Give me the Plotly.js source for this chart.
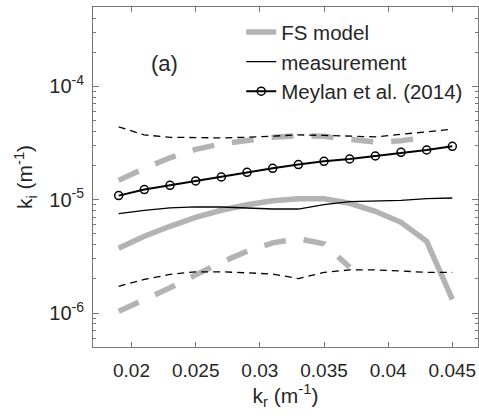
<!DOCTYPE html>
<html>
<head>
<meta charset="utf-8">
<script src="https://cdn.plot.ly/plotly-3.0.1.min.js"></script>
<style>html,body{margin:0;padding:0;background:#fff;}#chart{width:479px;height:419px;}</style>
</head>
<body>
<div id="chart"></div>
<script>
// k_r values (m^-1)
const kr = [0.019,0.021,0.023,0.025,0.027,0.029,0.031,0.033,0.035,0.037,0.039,0.041,0.043,0.045];
// FS model (central, upper, lower)
const fsModel = [3.72e-6,4.75e-6,5.82e-6,6.99e-6,8.06e-6,9.01e-6,9.77e-6,1.018e-5,1.018e-5,9.29e-6,7.89e-6,6.31e-6,4.29e-6,1.32e-6];
const fsUpper = [1.48e-5,1.89e-5,2.34e-5,2.78e-5,3.11e-5,3.37e-5,3.55e-5,3.66e-5,3.62e-5,3.41e-5,3.23e-5,3.31e-5,3.55e-5,null];
const fsLower = [1.035e-6,1.31e-6,1.67e-6,2.17e-6,2.80e-6,3.50e-6,4.16e-6,4.52e-6,4.08e-6,2.53e-6,null,null,null,null];
// measurement (central, upper, lower)
const meas = [7.53e-6,8.06e-6,8.48e-6,8.65e-6,8.62e-6,8.48e-6,8.27e-6,8.27e-6,9.05e-6,9.61e-6,9.73e-6,9.87e-6,1.022e-5,1.034e-5];
const measUpper = [4.39e-5,3.73e-5,3.55e-5,3.51e-5,3.51e-5,3.55e-5,3.62e-5,3.73e-5,3.69e-5,3.62e-5,3.58e-5,3.77e-5,3.97e-5,4.18e-5];
const measLower = [1.72e-6,1.98e-6,2.19e-6,2.31e-6,2.31e-6,2.26e-6,2.21e-6,2.01e-6,2.28e-6,2.40e-6,2.40e-6,2.35e-6,2.28e-6,2.28e-6];
// Meylan et al. (2014)
const meylan = [1.086e-5,1.227e-5,1.339e-5,1.462e-5,1.585e-5,1.743e-5,1.891e-5,2.039e-5,2.181e-5,2.285e-5,2.428e-5,2.617e-5,2.743e-5,2.957e-5];
// tick labels
const xTickVals = [0.02,0.025,0.03,0.035,0.04,0.045];
const xTickText = ['0.02','0.025','0.03','0.035','0.04','0.045'];
const yTickVals = [1e-6,1e-5,1e-4];
const yTickText = ['10<sup>-6</sup>','10<sup>-5</sup>','10<sup>-4</sup>'];

const minorVals = [];
for (let e = -7; e <= -3; e++) for (let m = 2; m <= 9; m++) minorVals.push(m * Math.pow(10, e));

const gray = '#b3b3b3';
const traces = [
  {x: kr, y: fsModel, mode: 'lines', name: 'FS model', line: {color: gray, width: 5.5}},
  {x: kr, y: fsUpper, mode: 'lines', showlegend: false, line: {color: gray, width: 5.5, dash: '22px,18px'}},
  {x: kr, y: fsLower, mode: 'lines', showlegend: false, line: {color: gray, width: 5.5, dash: '22px,18px'}},
  {x: kr, y: meas, mode: 'lines', name: 'measurement', line: {color: '#000', width: 1.3}},
  {x: kr, y: measUpper, mode: 'lines', showlegend: false, line: {color: '#000', width: 1.3, dash: '7px,5px'}},
  {x: kr, y: measLower, mode: 'lines', showlegend: false, line: {color: '#000', width: 1.3, dash: '7px,5px'}},
  {x: kr, y: meylan, mode: 'lines+markers', name: 'Meylan et al. (2014)', line: {color: '#000', width: 2},
   marker: {symbol: 'circle-open', size: 8, color: '#000', line: {width: 1.5}}}
];

const font = {family: '"Liberation Sans", Arial, Helvetica, sans-serif', color: '#262626'};
const layout = {
  width: 479, height: 419,
  margin: {l: 93, r: 1, t: 7, b: 72, pad: 0},
  paper_bgcolor: '#fff', plot_bgcolor: '#fff',
  font: Object.assign({size: 19}, font),
  showlegend: true,
  legend: {x: 0.385, y: 0.985, xanchor: 'left', yanchor: 'top', bgcolor: 'rgba(0,0,0,0)',
           font: Object.assign({size: 20.5}, font), tracegroupgap: 0},
  xaxis: {
    range: [0.017, 0.047], tickvals: xTickVals, ticktext: xTickText,
    ticks: 'inside', ticklen: 5, tickcolor: '#777', linecolor: '#777', linewidth: 1,
    showline: true, mirror: 'ticks', showgrid: false, zeroline: false,
    tickfont: Object.assign({size: 19}, font), ticklabelstandoff: 6,
    title: {text: 'k<sub>r</sub> (m<sup>-1</sup>)', font: Object.assign({size: 21}, font), standoff: 8}
  },
  yaxis: {
    type: 'log', range: [-6.3, -3.3], tickvals: yTickVals, ticktext: yTickText,
    ticks: 'inside', ticklen: 6, tickcolor: '#777', linecolor: '#777', linewidth: 1,
    showline: true, mirror: 'ticks', showgrid: false, zeroline: false,
    tickfont: Object.assign({size: 20}, font), ticklabelstandoff: 4,
    minor: {tickmode: 'array', tickvals: minorVals, ticks: 'inside', ticklen: 3, tickcolor: '#777', showgrid: false},
    title: {text: 'k<sub>i</sub> (m<sup>-1</sup>)', font: Object.assign({size: 21}, font), standoff: 10}
  },
  annotations: [
    {text: '(a)', xref: 'paper', yref: 'paper', x: 0.186, y: 0.834, xanchor: 'center', yanchor: 'middle',
     showarrow: false, font: Object.assign({size: 22}, font)}
  ]
};

Plotly.newPlot('chart', traces, layout, {displayModeBar: false, staticPlot: true});
</script>
</body>
</html>
